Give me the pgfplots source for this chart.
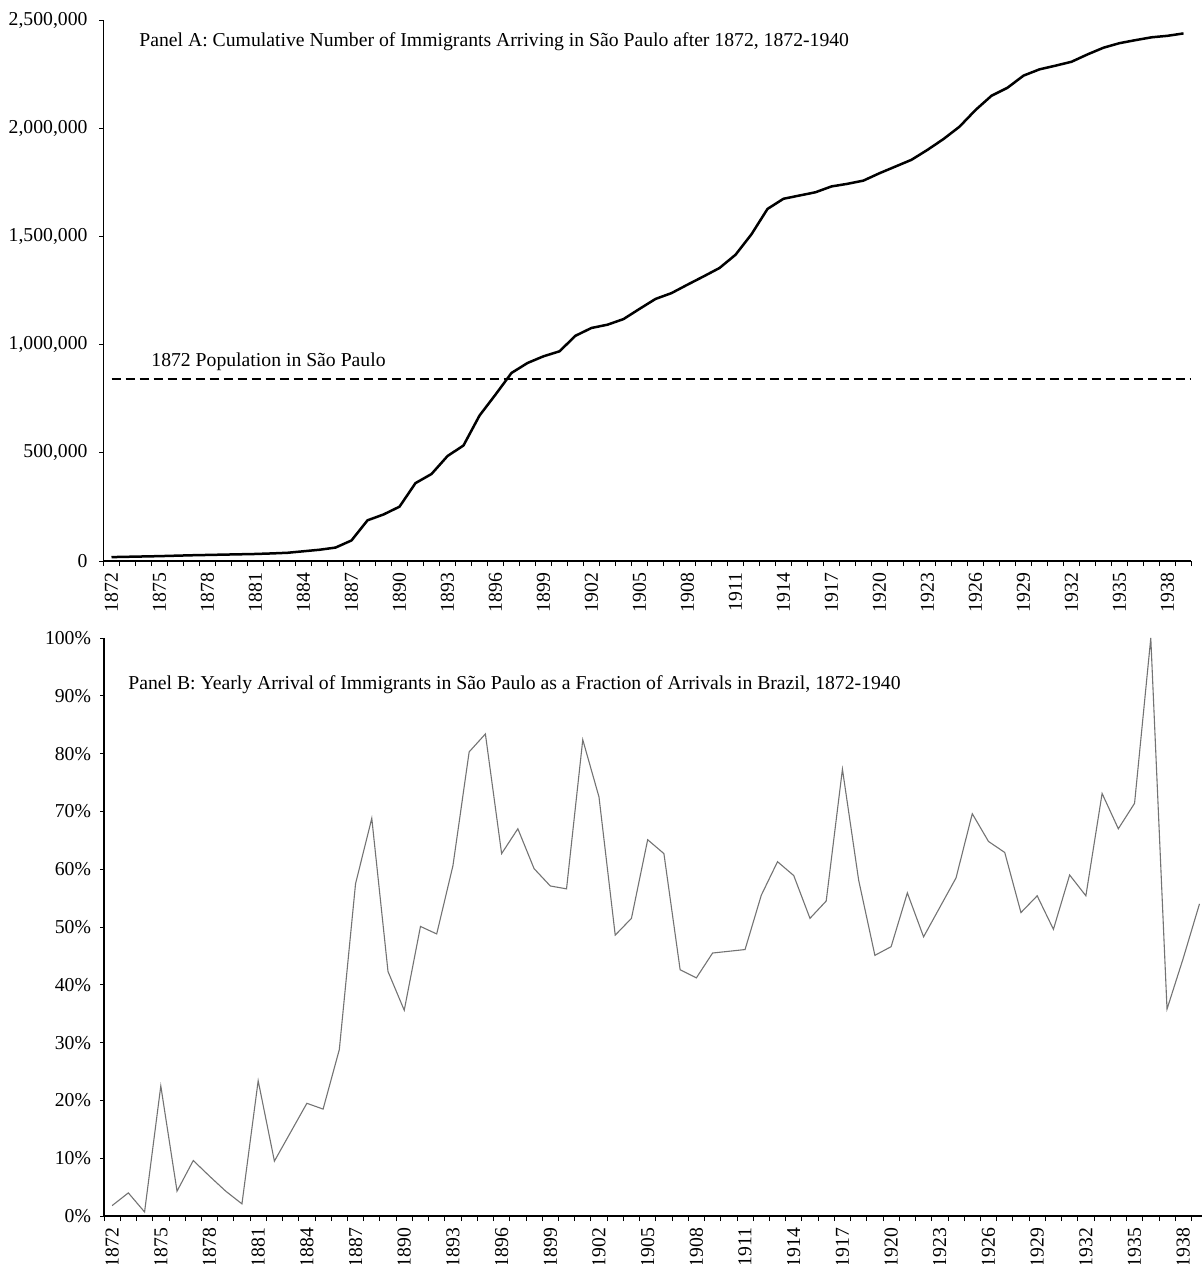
\documentclass[border=0pt]{standalone}
\usepackage{fontspec}
\setmainfont{Liberation Serif}
\usepackage{pgfplots}
\pgfplotsset{compat=1.18}
\usepackage{pgfplotstable}

\pgfplotstableread{
year value
1872 18000
1873 19500
1874 21000
1875 22500
1876 24500
1877 26500
1878 28000
1879 29500
1880 31000
1881 32500
1882 35000
1883 38000
1884 45000
1885 52000
1886 62000
1887 95000
1888 188000
1889 215000
1890 251000
1891 360000
1892 402000
1893 485000
1894 534000
1895 672000
1896 769000
1897 869000
1898 915000
1899 946000
1900 969000
1901 1041000
1902 1077000
1903 1092000
1904 1118000
1905 1165000
1906 1211000
1907 1238000
1908 1277000
1909 1315000
1910 1354000
1911 1415000
1912 1510000
1913 1627000
1914 1674000
1915 1689000
1916 1704000
1917 1731000
1918 1743000
1919 1758000
1920 1792000
1921 1823000
1922 1854000
1923 1900000
1924 1950000
1925 2007000
1926 2084000
1927 2150000
1928 2187000
1929 2243000
1930 2272000
1931 2289000
1932 2307000
1933 2341000
1934 2372000
1935 2393000
1936 2407000
1937 2420000
1938 2427000
1939 2438000
}\cumdata

\pgfplotstableread{
year share
1872 1.8
1873 4.0
1874 0.7
1875 22.5
1876 4.3
1877 9.6
1878 6.9
1879 4.3
1880 2.1
1881 23.4
1882 9.5
1883 14.5
1884 19.5
1885 18.5
1886 28.8
1887 57.5
1888 68.8
1889 42.3
1890 35.6
1891 50.1
1892 48.8
1893 60.6
1894 80.3
1895 83.4
1896 62.7
1897 67.0
1898 60.1
1899 57.1
1900 56.6
1901 82.4
1902 72.5
1903 48.6
1904 51.5
1905 65.1
1906 62.7
1907 42.6
1908 41.2
1909 45.5
1910 45.8
1911 46.1
1912 55.5
1913 61.3
1914 58.9
1915 51.5
1916 54.5
1917 77.3
1918 58.1
1919 45.1
1920 46.6
1921 55.9
1922 48.3
1923 53.4
1924 58.5
1925 69.6
1926 64.8
1927 62.9
1928 52.5
1929 55.4
1930 49.6
1931 59.0
1932 55.4
1933 73.1
1934 67.0
1935 71.4
1936 100.0
1937 35.8
1938 44.6
1939 54.0
}\sharedata

\pgfplotsset{
  myaxis/.style={
    scale only axis,
    axis lines*=left,
    tick align=outside,
    xmin=1871.5, xmax=1939.5,
    xtick={1872,1875,...,1938},
    minor xtick={1871.5,1872.5,...,1939.5},
    major x tick style={draw=none},
    minor x tick style={black, line width=0.4pt},
    major tick length=2pt,
    minor tick length=2.5pt,
    ytick style={black, line width=0.4pt},
    axis line style={black, line width=0.6pt},
    tick label style={font=\fontsize{9.85}{11.8}\selectfont},
    xticklabel style={rotate=90, anchor=east, inner xsep=3.6pt, /pgf/number format/1000 sep={}},
    /pgf/number format/assume math mode=true,
    clip=false,
  }
}

\begin{document}
\begin{tikzpicture}
\begin{axis}[myaxis,
  at={(51.75pt,-280.5pt)}, anchor=south west,
  width=544pt, height=270.5pt,
  ymin=0, ymax=2500000,
  ytick={0,500000,...,2500000},
  scaled y ticks=false,
  yticklabel style={inner xsep=5.8pt, /pgf/number format/fixed, /pgf/number format/1000 sep={,}},
]
\addplot[black, line width=1.25pt] table[x=year, y=value] {\cumdata};
\addplot[black, line width=0.9pt, dash pattern=on 4.5pt off 2.5pt] coordinates {(1872,840000) (1939.5,840000)};
\end{axis}

\begin{axis}[myaxis,
  at={(52pt,-608pt)}, anchor=south west,
  width=551.8pt, height=289pt,
  ymin=0, ymax=100,
  ytick={0,10,...,100},
  yticklabel style={inner xsep=4.3pt},
  yticklabel={\pgfmathprintnumber{\tick}\%},
]
\addplot[black!55, line width=0.55pt] table[x=year, y=share] {\sharedata};
\end{axis}

\node[anchor=base west, inner sep=0pt, font=\fontsize{9.85}{11.8}\selectfont] at (69.5pt,-23.35pt) {Panel A: Cumulative Number of Immigrants Arriving in São Paulo after 1872, 1872-1940};
\node[anchor=base west, inner sep=0pt, font=\fontsize{9.85}{11.8}\selectfont] at (75.5pt,-183.35pt) {1872 Population in São Paulo};
\node[anchor=base west, inner sep=0pt, font=\fontsize{9.85}{11.8}\selectfont] at (64pt,-344.5pt) {Panel B: Yearly Arrival of Immigrants in São Paulo as a Fraction of Arrivals in Brazil, 1872-1940};

\pgfresetboundingbox
\useasboundingbox (0,0) rectangle (600.5pt,-632pt);
\end{tikzpicture}
\end{document}
